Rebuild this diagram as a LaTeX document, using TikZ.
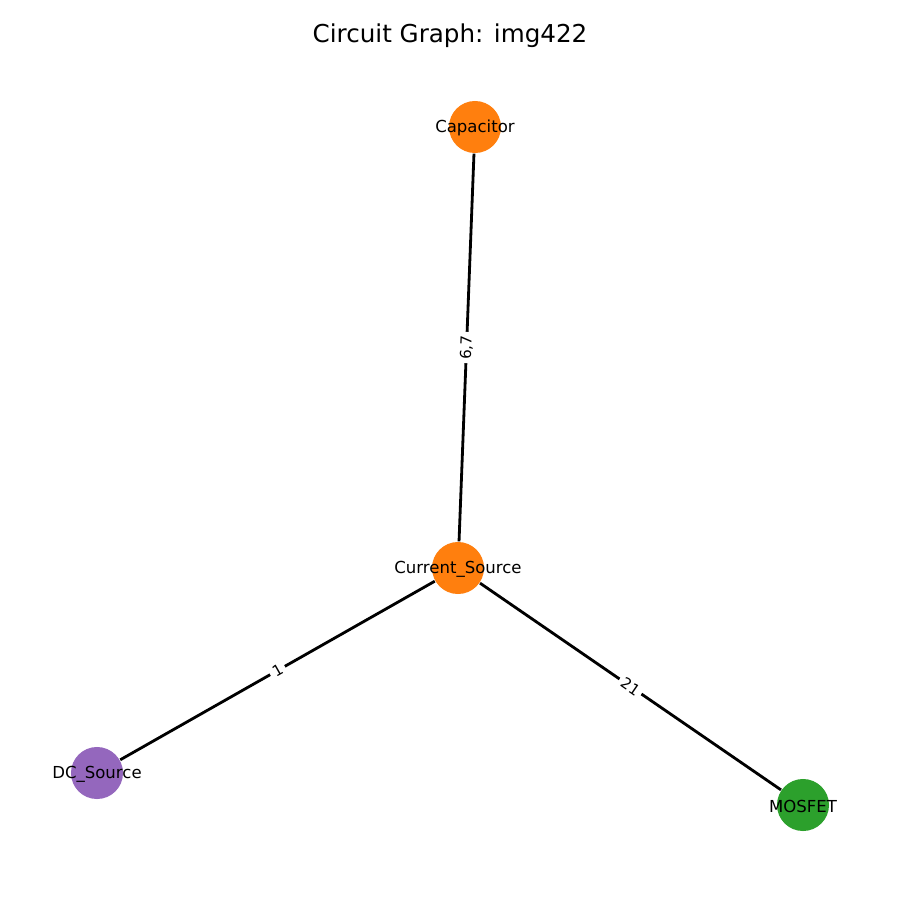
\documentclass[tikz,border=0pt]{standalone}
\usepackage{fontspec}
\setmainfont{DejaVu Sans}
\definecolor{corange}{HTML}{FF7F0E}
\definecolor{cpurple}{HTML}{9467BD}
\definecolor{cgreen}{HTML}{2CA02C}
\begin{document}
\begin{tikzpicture}[x=0.01cm,y=-0.01cm,
  comp/.style={circle,draw=none,inner sep=0pt,minimum size=0.52cm},
  compname/.style={font=\fontsize{4.7pt}{5pt}\selectfont,yshift=-0.3pt},
  wire/.style={line width=0.8pt,black},
  wirelabel/.style={fill=white,inner sep=1pt,sloped,font=\fontsize{4.3pt}{5pt}\selectfont}]
  \useasboundingbox (0,0) rectangle (900,900);
  \node[font=\fontsize{7pt}{8pt}\selectfont] (title) at (450,36) {Circuit Graph: img422};
  % components
  \node[comp,fill=corange,label={[compname]center:Capacitor}] (cap) at (475,127) {};
  \node[comp,fill=corange,label={[compname]center:Current\_Source}] (cs) at (458,568) {};
  \node[comp,fill=cpurple,label={[compname]center:DC\_Source}] (dc) at (97,773) {};
  \node[comp,fill=cgreen,label={[compname]center:MOSFET}] (mos) at (803,805) {};
  % connections with their net labels
  \draw[wire] (cs) -- node[wirelabel] (l1) {6,7} (cap);
  \draw[wire] (cs) -- node[wirelabel] (l2) {1} (dc);
  \draw[wire] (cs) -- node[wirelabel] (l3) {21} (mos);
\end{tikzpicture}
\end{document}
